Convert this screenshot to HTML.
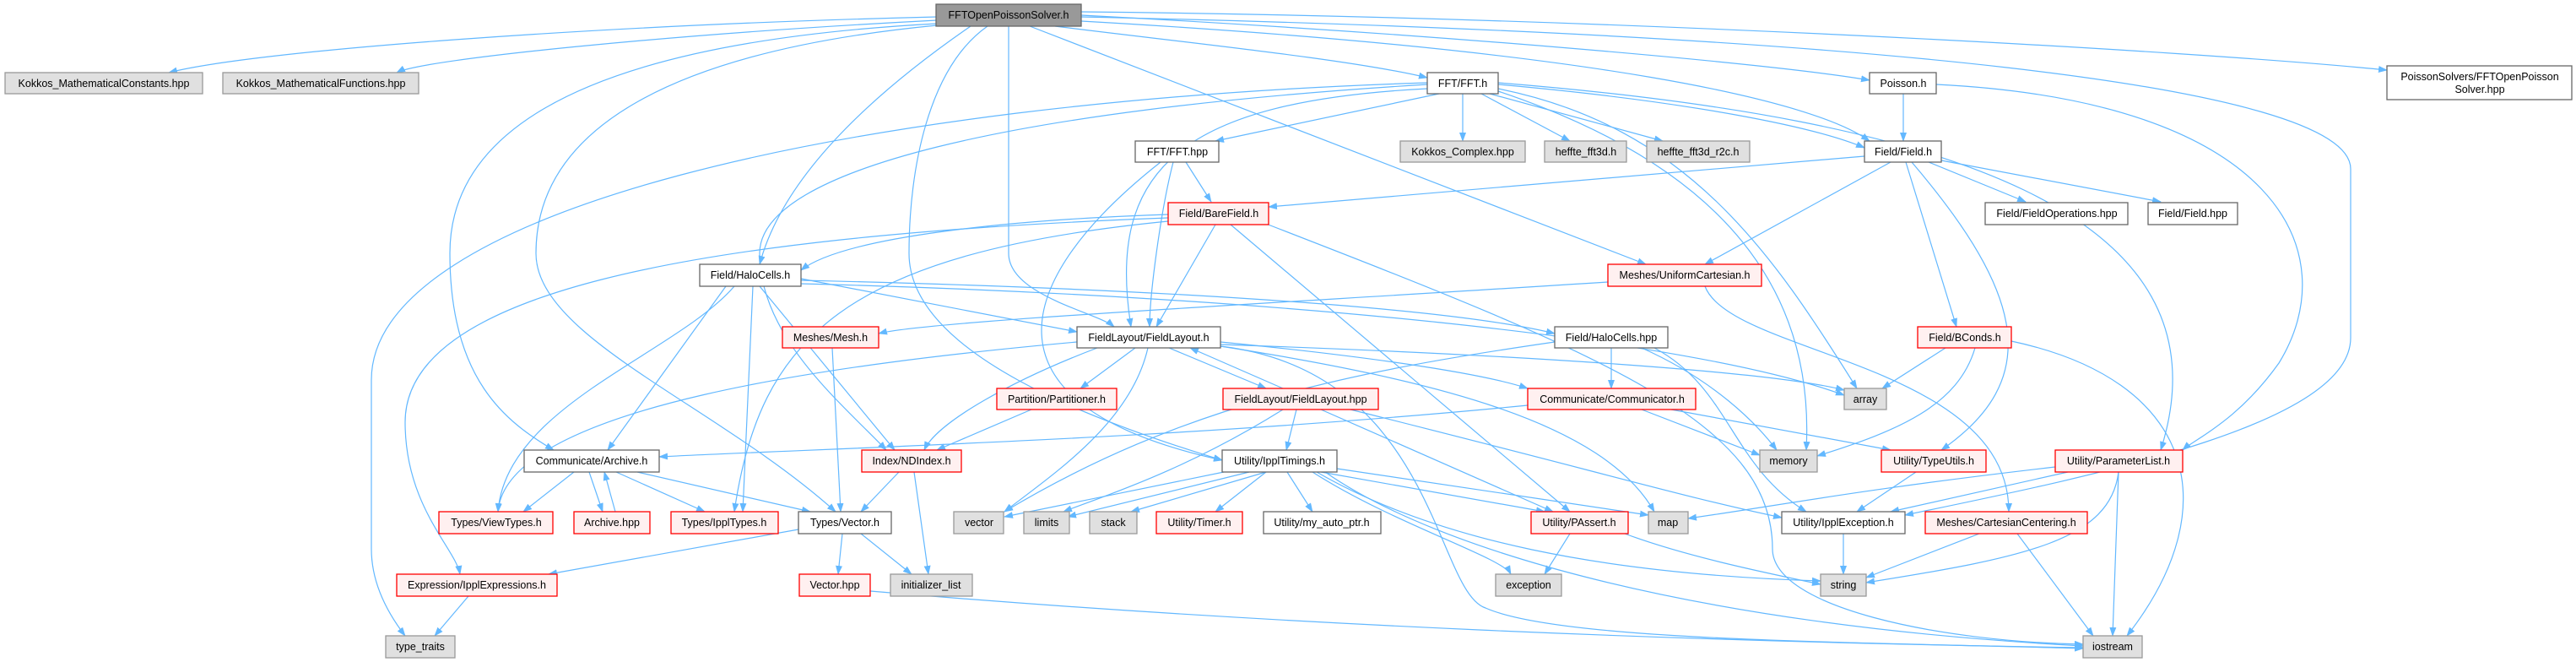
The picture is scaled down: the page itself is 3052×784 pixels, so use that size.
<!DOCTYPE html>
<html><head><meta charset="utf-8"><style>
html,body{margin:0;padding:0;background:#fff;}
svg{display:block}
text{font-family:"Liberation Sans",Arial,sans-serif;font-size:12.5px;fill:#000;text-anchor:middle}
.e{fill:none;stroke:#63b8ff;stroke-width:1.2;marker-end:url(#a)}
.w{fill:#fff;stroke:#666;stroke-width:1.3}
.g{fill:#e0e0e0;stroke:#999;stroke-width:1.3}
.r{fill:#fff0f0;stroke:#f00;stroke-width:1.3}
.root{fill:#999;stroke:#666;stroke-width:1.3}
</style></head><body>
<svg width="3052" height="784" viewBox="0 0 3052 784" xmlns="http://www.w3.org/2000/svg">
<defs><marker id="a" markerWidth="11" markerHeight="8" refX="10" refY="4" orient="auto" markerUnits="userSpaceOnUse"><path d="M0,0 L11,4 L0,8 z" fill="#63b8ff"/></marker></defs>
<g>
<path class="e" d="M1110 20 C700 30 300 60 200 86"/>
<path class="e" d="M1110 24 C800 40 500 70 470 86"/>
<path class="e" d="M1250 31 C1400 50 1600 70 1691 92"/>
<path class="e" d="M1281 18 C1700 40 2100 75 2215 95"/>
<path class="e" d="M1281 14 C1900 20 2600 60 2828 83"/>
<path class="e" d="M1150 31 C1050 100 930 200 900 313"/>
<path class="e" d="M1110 28 C700 50 533 150 533 300 C533 450 600 500 656 533"/>
<path class="e" d="M1110 30 C800 60 635 150 635 300 C635 400 850 480 990 606"/>
<path class="e" d="M1195 31 L1195 300 C1195 350 1300 370 1320 387"/>
<path class="e" d="M1170 31 C1100 80 1077 200 1077 300 C1077 420 1300 500 1448 545"/>
<path class="e" d="M1220 31 L1950 313"/>
<path class="e" d="M1281 20 C2200 40 2785 100 2785 200 L2785 400 C2785 500 2500 560 2257 610"/>
<path class="e" d="M1281 25 C1900 60 2150 120 2215 167"/>
<path class="e" d="M1705 111 L1440 167"/>
<path class="e" d="M1733 111 L1733 167"/>
<path class="e" d="M1755 111 L1860 167"/>
<path class="e" d="M1765 111 L1970 167"/>
<path class="e" d="M1775 100 C2000 120 2150 150 2209 175"/>
<path class="e" d="M1691 105 C1400 120 1310 200 1340 387"/>
<path class="e" d="M1691 100 C1200 130 900 200 900 300 C900 400 1000 480 1050 533"/>
<path class="e" d="M1691 98 C1000 120 440 250 440 450 L440 650 C440 700 470 740 480 753"/>
<path class="e" d="M1775 105 C2000 150 2100 300 2200 460"/>
<path class="e" d="M1775 108 C2050 200 2150 350 2140 533"/>
<path class="e" d="M1775 98 C2300 140 2650 250 2560 533"/>
<path class="e" d="M2255 111 L2255 167"/>
<path class="e" d="M2294 100 C2700 120 2780 300 2700 430 C2650 500 2600 520 2586 533"/>
<path class="e" d="M2209 185 L1503 245"/>
<path class="e" d="M2240 192 L2020 313"/>
<path class="e" d="M2285 192 L2400 239"/>
<path class="e" d="M2300 190 L2560 239"/>
<path class="e" d="M2258 192 L2318 387"/>
<path class="e" d="M2265 192 C2400 350 2420 450 2300 533"/>
<path class="e" d="M1405 192 L1435 239"/>
<path class="e" d="M1390 192 C1375 250 1362 350 1362 387"/>
<path class="e" d="M1375 192 C1200 330 1150 480 1448 545"/>
<path class="e" d="M1384 254 C1200 260 1000 280 949 320"/>
<path class="e" d="M1440 266 L1370 387"/>
<path class="e" d="M1384 258 C800 280 480 350 480 500 C480 600 540 650 545 680"/>
<path class="e" d="M1384 262 C1000 300 900 400 870 606"/>
<path class="e" d="M1458 266 L1860 606"/>
<path class="e" d="M1500 265 C1900 420 2100 500 2100 650 C2100 720 2300 760 2468 763"/>
<path class="e" d="M949 330 L1276 393"/>
<path class="e" d="M949 332 C1300 340 1700 360 1842 395"/>
<path class="e" d="M860 339 L720 533"/>
<path class="e" d="M870 339 C800 420 600 480 590 606"/>
<path class="e" d="M892 339 L880 606"/>
<path class="e" d="M900 339 L1060 533"/>
<path class="e" d="M949 336 C1500 350 2000 400 2185 468"/>
<path class="e" d="M1905 334 C1500 360 1100 380 1041 395"/>
<path class="e" d="M2020 339 C2050 420 2380 430 2380 606"/>
<path class="e" d="M986 412 L996 606"/>
<path class="e" d="M1345 412 L1280 460"/>
<path class="e" d="M1385 412 L1500 460"/>
<path class="e" d="M1446 405 C1600 420 1750 440 1810 460"/>
<path class="e" d="M1300 412 C1200 450 1110 500 1095 533"/>
<path class="e" d="M1360 412 C1340 500 1250 560 1190 606"/>
<path class="e" d="M1276 405 C1000 430 600 480 590 606"/>
<path class="e" d="M1446 408 C1800 420 2100 440 2185 462"/>
<path class="e" d="M1446 410 C1700 440 1700 700 1760 720 C1850 760 2200 760 2468 768"/>
<path class="e" d="M1446 410 C1700 450 1900 500 1960 606"/>
<path class="e" d="M1520 460 L1410 412"/>
<path class="e" d="M1536 485 L1524 533"/>
<path class="e" d="M1565 485 L1840 606"/>
<path class="e" d="M1600 485 C1900 560 2000 590 2111 613"/>
<path class="e" d="M1520 485 C1400 560 1300 590 1260 606"/>
<path class="e" d="M1909 412 L1909 460"/>
<path class="e" d="M1945 412 C2030 450 2080 500 2105 533"/>
<path class="e" d="M1960 412 C2050 460 2050 550 2140 606"/>
<path class="e" d="M1842 405 C1600 440 1400 480 1190 606"/>
<path class="e" d="M1810 480 C1400 520 1000 530 781 541"/>
<path class="e" d="M1945 485 L2085 539"/>
<path class="e" d="M1980 485 L2240 533"/>
<path class="e" d="M1222 485 L1110 533"/>
<path class="e" d="M1450 559 L1190 612"/>
<path class="e" d="M1480 559 L1265 612"/>
<path class="e" d="M1500 559 L1340 606"/>
<path class="e" d="M1500 559 L1440 606"/>
<path class="e" d="M1525 559 L1555 606"/>
<path class="e" d="M1565 559 L1830 606"/>
<path class="e" d="M1584 555 L1953 610"/>
<path class="e" d="M1555 559 C1650 620 1780 660 1790 680"/>
<path class="e" d="M1560 559 C1700 640 1900 680 2157 688"/>
<path class="e" d="M1570 559 C1700 650 2000 740 2468 765"/>
<path class="e" d="M680 559 L620 606"/>
<path class="e" d="M698 559 L714 606"/>
<path class="e" d="M730 559 L835 606"/>
<path class="e" d="M755 559 L960 606"/>
<path class="e" d="M729 606 L716 559"/>
<path class="e" d="M1065 559 L1020 606"/>
<path class="e" d="M1083 559 L1100 680"/>
<path class="e" d="M946 627 L650 680"/>
<path class="e" d="M998 632 L993 680"/>
<path class="e" d="M1020 632 L1080 680"/>
<path class="e" d="M1031 700 C1500 740 2000 760 2468 767"/>
<path class="e" d="M555 706 L515 753"/>
<path class="e" d="M2305 412 L2230 460"/>
<path class="e" d="M2340 412 C2320 480 2250 510 2153 540"/>
<path class="e" d="M2383 404 C2600 450 2640 600 2520 753"/>
<path class="e" d="M1860 632 L1830 680"/>
<path class="e" d="M1925 632 C2000 660 2100 680 2157 692"/>
<path class="e" d="M2270 559 L2200 606"/>
<path class="e" d="M2435 553 C2200 580 2100 600 2000 614"/>
<path class="e" d="M2450 559 L2240 606"/>
<path class="e" d="M2510 559 C2500 640 2400 660 2211 690"/>
<path class="e" d="M2510 559 L2503 753"/>
<path class="e" d="M2184 632 L2184 680"/>
<path class="e" d="M2345 632 L2211 684"/>
<path class="e" d="M2390 632 L2480 753"/>
</g>
<g>
<rect class="root" x="1109" y="5" width="172" height="26"/><text x="1195" y="22">FFTOpenPoissonSolver.h</text>
<rect class="g" x="6" y="86" width="234" height="25"/><text x="123" y="103">Kokkos_MathematicalConstants.hpp</text>
<rect class="g" x="264" y="86" width="232" height="25"/><text x="380" y="103">Kokkos_MathematicalFunctions.hpp</text>
<rect class="w" x="1691" y="86" width="84" height="25"/><text x="1733" y="103">FFT/FFT.h</text>
<rect class="w" x="2215" y="86" width="79" height="25"/><text x="2255" y="103">Poisson.h</text>
<rect class="w" x="2828" y="78" width="219" height="40"/><text x="2938" y="95">PoissonSolvers/FFTOpenPoisson</text><text x="2938" y="110">Solver.hpp</text>
<rect class="w" x="1345" y="167" width="99" height="25"/><text x="1395" y="184">FFT/FFT.hpp</text>
<rect class="g" x="1659" y="167" width="148" height="25"/><text x="1733" y="184">Kokkos_Complex.hpp</text>
<rect class="g" x="1830" y="167" width="97" height="25"/><text x="1879" y="184">heffte_fft3d.h</text>
<rect class="g" x="1951" y="167" width="122" height="25"/><text x="2012" y="184">heffte_fft3d_r2c.h</text>
<rect class="w" x="2209" y="167" width="91" height="25"/><text x="2255" y="184">Field/Field.h</text>
<rect class="r" x="1384" y="240" width="119" height="26"/><text x="1444" y="257">Field/BareField.h</text>
<rect class="w" x="2352" y="240" width="169" height="26"/><text x="2437" y="257">Field/FieldOperations.hpp</text>
<rect class="w" x="2545" y="240" width="106" height="26"/><text x="2598" y="257">Field/Field.hpp</text>
<rect class="w" x="829" y="313" width="120" height="26"/><text x="889" y="330">Field/HaloCells.h</text>
<rect class="r" x="1905" y="313" width="182" height="26"/><text x="1996" y="330">Meshes/UniformCartesian.h</text>
<rect class="r" x="927" y="387" width="114" height="25"/><text x="984" y="404">Meshes/Mesh.h</text>
<rect class="w" x="1276" y="387" width="170" height="25"/><text x="1361" y="404">FieldLayout/FieldLayout.h</text>
<rect class="w" x="1842" y="387" width="134" height="25"/><text x="1909" y="404">Field/HaloCells.hpp</text>
<rect class="r" x="2272" y="387" width="111" height="25"/><text x="2328" y="404">Field/BConds.h</text>
<rect class="r" x="1181" y="460" width="142" height="25"/><text x="1252" y="477">Partition/Partitioner.h</text>
<rect class="r" x="1449" y="460" width="184" height="25"/><text x="1541" y="477">FieldLayout/FieldLayout.hpp</text>
<rect class="r" x="1810" y="460" width="199" height="25"/><text x="1910" y="477">Communicate/Communicator.h</text>
<rect class="g" x="2185" y="460" width="50" height="25"/><text x="2210" y="477">array</text>
<rect class="w" x="621" y="533" width="160" height="26"/><text x="701" y="550">Communicate/Archive.h</text>
<rect class="r" x="1021" y="533" width="118" height="26"/><text x="1080" y="550">Index/NDIndex.h</text>
<rect class="w" x="1448" y="533" width="136" height="26"/><text x="1516" y="550">Utility/IpplTimings.h</text>
<rect class="g" x="2085" y="533" width="68" height="26"/><text x="2119" y="550">memory</text>
<rect class="r" x="2229" y="533" width="124" height="26"/><text x="2291" y="550">Utility/TypeUtils.h</text>
<rect class="r" x="2435" y="533" width="151" height="26"/><text x="2510" y="550">Utility/ParameterList.h</text>
<rect class="r" x="520" y="606" width="135" height="26"/><text x="588" y="623">Types/ViewTypes.h</text>
<rect class="r" x="680" y="606" width="90" height="26"/><text x="725" y="623">Archive.hpp</text>
<rect class="r" x="795" y="606" width="127" height="26"/><text x="858" y="623">Types/IpplTypes.h</text>
<rect class="w" x="946" y="606" width="110" height="26"/><text x="1001" y="623">Types/Vector.h</text>
<rect class="g" x="1130" y="606" width="59" height="26"/><text x="1160" y="623">vector</text>
<rect class="g" x="1213" y="606" width="54" height="26"/><text x="1240" y="623">limits</text>
<rect class="g" x="1291" y="606" width="56" height="26"/><text x="1319" y="623">stack</text>
<rect class="r" x="1370" y="606" width="102" height="26"/><text x="1421" y="623">Utility/Timer.h</text>
<rect class="w" x="1497" y="606" width="139" height="26"/><text x="1566" y="623">Utility/my_auto_ptr.h</text>
<rect class="r" x="1814" y="606" width="115" height="26"/><text x="1871" y="623">Utility/PAssert.h</text>
<rect class="g" x="1953" y="606" width="47" height="26"/><text x="1976" y="623">map</text>
<rect class="w" x="2111" y="606" width="146" height="26"/><text x="2184" y="623">Utility/IpplException.h</text>
<rect class="r" x="2281" y="606" width="192" height="26"/><text x="2377" y="623">Meshes/CartesianCentering.h</text>
<rect class="r" x="470" y="680" width="190" height="26"/><text x="565" y="697">Expression/IpplExpressions.h</text>
<rect class="r" x="947" y="680" width="84" height="26"/><text x="989" y="697">Vector.hpp</text>
<rect class="g" x="1055" y="680" width="97" height="26"/><text x="1103" y="697">initializer_list</text>
<rect class="g" x="1772" y="680" width="78" height="26"/><text x="1811" y="697">exception</text>
<rect class="g" x="2157" y="680" width="54" height="26"/><text x="2184" y="697">string</text>
<rect class="g" x="457" y="753" width="82" height="26"/><text x="498" y="770">type_traits</text>
<rect class="g" x="2468" y="753" width="70" height="26"/><text x="2503" y="770">iostream</text>
</g>
</svg>
</body></html>
